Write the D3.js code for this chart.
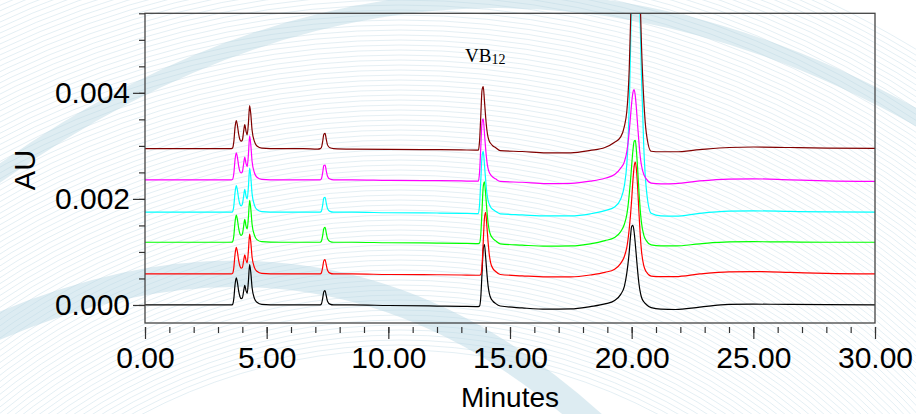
<html>
<head>
  <meta charset="utf-8">
  <title>VB12 chromatograms</title>
  <script src="https://d3js.org/d3.v7.min.js"></script>
  <style>
    body { margin: 0; background: #fff; }
  </style>
</head>
<body>
  <script>
    // retention time (minutes), shared by all six runs
    const times = [0, 1, 2, 3, 3.5,
      3.55, 3.6, 3.65, 3.7, 3.75, 3.8, 3.85, 3.9, 3.95, 4.0, 4.05, 4.1, 4.15, 4.2, 4.25, 4.3, 4.35, 4.4, 4.5, 4.6, 4.8,
      5.5, 6.5, 7.1,
      7.2, 7.25, 7.3, 7.35, 7.4, 7.45, 7.5, 7.6, 7.75,
      8.5, 10, 12, 13, 13.6,
      13.7, 13.75, 13.8, 13.85, 13.9, 13.95, 14.0, 14.05, 14.1, 14.15, 14.2, 14.3, 14.4, 14.6,
      15.5, 16.5, 17.5, 18.3, 18.9, 19.3, 19.55,
      19.7, 19.8, 19.85, 19.9, 19.95, 20.0, 20.05, 20.1, 20.15, 20.2, 20.25, 20.3, 20.35, 20.4, 20.5, 20.6, 20.8,
      21.2, 21.8, 22.8, 24, 25, 26.5, 28, 30];

    // signal of each run above its own baseline, in micro-AU
    const black = [0, 0, 0, 0, 0,
      0, 10, 120, 380, 510, 420, 260, 160, 120, 130, 250, 370, 270, 220, 450, 760, 600, 330, 120, 50, 10,
      0, 0, 0,
      0, 20, 120, 250, 270, 170, 70, 15, 0,
      0, -10, -20, -25, -30,
      -30, -20, 150, 600, 1050, 1140, 900, 600, 360, 220, 140, 70, 30, -20,
      -55, -80, -75, -30, 20, 85, 200,
      350, 600, 780, 1000, 1280, 1480, 1500, 1380, 1150, 880, 620, 400, 250, 150, 60, 10, -50,
      -80, -85, -40, 10, 15, 10, 5, 0];
    const red = [0, 0, 0, 0, 0,
      0, 10, 120, 370, 500, 410, 250, 150, 110, 120, 240, 360, 260, 210, 440, 750, 590, 320, 120, 50, 10,
      0, 0, 0,
      0, 20, 120, 250, 270, 170, 70, 15, 0,
      0, -10, -15, -20, -25,
      -25, -25, -10, 150, 600, 1050, 1160, 900, 600, 360, 220, 100, 50, -10,
      -35, -55, -55, -20, 30, 90, 200,
      330, 500, 650, 850, 1100, 1400, 1750, 2020, 2110, 1950, 1600, 1150, 750, 450, 150, 40, -40,
      -50, -50, 0, 40, 45, 30, 10, 0];
    const green = [0, 0, 0, 0, 0,
      0, 10, 120, 380, 510, 420, 260, 160, 130, 150, 290, 430, 310, 250, 470, 790, 620, 340, 130, 50, 10,
      0, 0, 0,
      0, 20, 120, 260, 280, 175, 70, 15, 0,
      0, -10, -15, -20, -25,
      -25, -15, 150, 600, 1050, 1140, 900, 600, 360, 220, 140, 70, 30, -30,
      -55, -75, -70, -30, 30, 90, 200,
      340, 520, 680, 900, 1150, 1450, 1720, 1900, 1920, 1700, 1350, 950, 620, 380, 130, 30, -50,
      -70, -70, -30, 5, 10, 5, 0, 0];
    const cyan = [0, 0, 0, 0, 0,
      0, 10, 120, 370, 500, 410, 250, 150, 120, 150, 290, 430, 310, 250, 480, 830, 650, 350, 130, 50, 10,
      0, 0, 0,
      0, 20, 130, 270, 280, 170, 70, 15, 0,
      0, -10, -15, -20, -25,
      -25, 150, 600, 1050, 1150, 900, 600, 360, 220, 150, 100, 50, 20, -30,
      -50, -70, -70, -30, 30, 100, 250,
      500, 900, 1300, 2000, 3000, 4300, 5600, 6600, 7000, 6700, 5800, 4700, 3600, 2600, 1200, 450, -20,
      -70, -75, -20, 20, 25, 15, 5, 0];
    const magenta = [0, 0, 0, 0, 0,
      0, 10, 120, 380, 510, 420, 260, 160, 130, 150, 290, 430, 310, 250, 480, 830, 650, 350, 130, 50, 10,
      0, 0, 0,
      0, 20, 130, 270, 280, 170, 70, 15, 0,
      0, -10, -15, -20, -25,
      -25, 150, 620, 1080, 1150, 880, 580, 350, 210, 140, 100, 50, 20, -30,
      -45, -70, -65, -25, 30, 100, 220,
      340, 530, 700, 920, 1180, 1450, 1640, 1700, 1580, 1320, 1000, 700, 450, 280, 100, 20, -60,
      -75, -70, -20, 15, 20, 0, -20, -30];
    const maroon = [0, 0, 0, 0, 0,
      0, 10, 130, 400, 530, 430, 270, 170, 140, 160, 310, 450, 330, 260, 480, 810, 640, 350, 130, 50, 10,
      0, 0, -10,
      0, 20, 130, 270, 285, 175, 70, 15, 0,
      -10, -15, -20, -25, -30,
      -30, 150, 620, 1100, 1170, 900, 590, 350, 210, 140, 100, 50, 20, -40,
      -55, -80, -80, -35, 20, 120, 220,
      420, 700, 1000, 1500, 2300, 3300, 4400, 5300, 5700, 5500, 4700, 3700, 2800, 2000, 900, 300, -50,
      -60, -60, -20, 20, 30, 20, 10, 5];

    // vertical offset of each run (micro-AU) and its colour
    const runs = [black, red, green, cyan, magenta, maroon];
    const offsets = [0, 585, 1183, 1749, 2359, 2949];
    const colors = ['#000000', '#ff0000', '#00ff00', '#00ffff', '#ff00ff', '#800000'];

    const xTicks = [0, 5, 10, 15, 20, 25, 30];
    const yTicks = [0, 2000, 4000];

    var width = 916,
        height = 414;

    var svg = d3.select('body')
      .append('svg')
      .attr('width', width)
      .attr('height', height);

    // decorative background swooshes
    var bg = svg.append('g');
    bg.selectAll('circle')
      .data(d3.range(550, 1000, 5))
      .enter()
      .append('circle')
      .attr('cx', 400)
      .attr('cy', 900)
      .attr('r', d => d)
      .attr('fill', 'none')
      .attr('stroke', '#cfe3ec')
      .attr('stroke-width', 0.8)
      .attr('opacity', 0.7);
    bg.append('path')
      .attr('d', 'M -10 180 Q 450 -150 930 125')
      .attr('fill', 'none')
      .attr('stroke', '#b8d6e2')
      .attr('stroke-width', 16)
      .attr('opacity', 0.45);
    bg.append('path')
      .attr('d', 'M -10 330 Q 330 180 600 430')
      .attr('fill', 'none')
      .attr('stroke', '#bcd9e5')
      .attr('stroke-width', 26)
      .attr('opacity', 0.5);

    var plotL = 145, plotR = 875, plotT = 13.3, plotB = 323;

    var x = d3.scaleLinear().domain([0, 30]).range([plotL, plotR]);
    var y = d3.scaleLinear().domain([-340, 5500]).range([plotB, plotT]);

    svg.append('clipPath').attr('id', 'plot')
      .append('rect')
      .attr('x', plotL).attr('y', plotT)
      .attr('width', plotR - plotL).attr('height', plotB - plotT);

    var line = d3.line()
      .x((d, i) => x(times[i]))
      .curve(d3.curveMonotoneX);

    var traces = svg.append('g').attr('clip-path', 'url(#plot)');
    runs.forEach(function (vals, k) {
      traces.append('path')
        .attr('d', line.y(d => y(d + offsets[k]))(vals))
        .attr('fill', 'none')
        .attr('stroke', colors[k])
        .attr('stroke-width', 1.2);
    });

    // frame
    svg.append('rect')
      .attr('x', plotL).attr('y', plotT)
      .attr('width', plotR - plotL).attr('height', plotB - plotT)
      .attr('fill', 'none')
      .attr('stroke', '#444')
      .attr('stroke-width', 1.3);

    // x axis, ticks sit below the frame
    var xMinor = svg.append('g')
      .attr('transform', 'translate(0,327)')
      .call(d3.axisBottom(x).tickValues(d3.range(0, 31)).tickSize(6).tickFormat(''));
    var xMajor = svg.append('g')
      .attr('transform', 'translate(0,327)')
      .call(d3.axisBottom(x).tickValues(xTicks).tickSize(12).tickPadding(8)
        .tickFormat(d => d.toFixed(2)));

    // y axis
    var yMinor = svg.append('g')
      .attr('transform', 'translate(' + plotL + ',0)')
      .call(d3.axisLeft(y).tickValues(d3.range(0, 5501, 500)).tickSize(6).tickFormat(''));
    var yMajor = svg.append('g')
      .attr('transform', 'translate(' + plotL + ',0)')
      .call(d3.axisLeft(y).tickValues(yTicks).tickSize(12).tickPadding(3)
        .tickFormat(d => (d / 1e6).toFixed(3)));

    [xMinor, xMajor, yMinor, yMajor].forEach(function (g) {
      g.select('.domain').remove();
      g.selectAll('line').attr('stroke', '#333').attr('stroke-width', 1.2);
      g.selectAll('text')
        .attr('fill', '#000')
        .style('font-family', '"Liberation Sans", Arial, sans-serif')
        .style('font-size', '30px');
    });

    svg.append('text')
      .attr('transform', 'translate(35,170) rotate(-90)')
      .attr('text-anchor', 'middle')
      .style('font-family', '"Liberation Sans", Arial, sans-serif')
      .style('font-size', '29px')
      .text('AU');

    svg.append('text')
      .attr('x', (plotL + plotR) / 2)
      .attr('y', 407)
      .attr('text-anchor', 'middle')
      .style('font-family', '"Liberation Sans", Arial, sans-serif')
      .style('font-size', '28px')
      .text('Minutes');

    var vb = svg.append('text')
      .attr('x', 465)
      .attr('y', 62)
      .style('font-family', '"Liberation Serif", "Times New Roman", serif')
      .style('font-size', '19px');
    vb.append('tspan').text('VB');
    vb.append('tspan').attr('dy', 2).style('font-size', '14px').text('12');
  </script>
</body>
</html>
